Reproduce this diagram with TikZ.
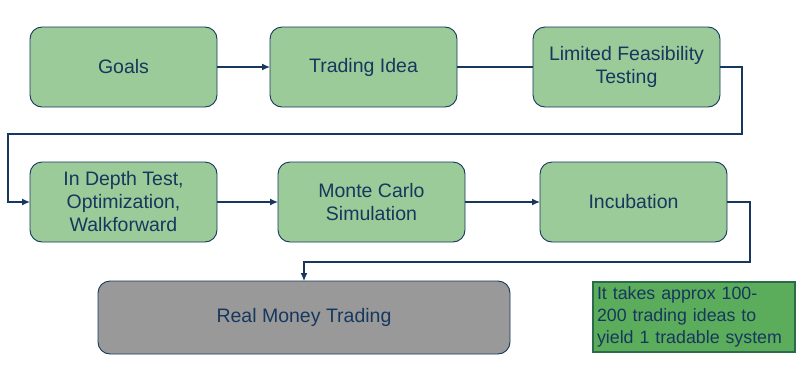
\documentclass[tikz,border=0pt]{standalone}
\usepackage{fontspec}
\setmainfont{Liberation Sans}
\usetikzlibrary{arrows.meta}
\definecolor{boxgreen}{HTML}{9ACB98}
\definecolor{navy}{HTML}{17375E}
\definecolor{boxgray}{HTML}{999999}
\definecolor{notegreen}{HTML}{5BAD5B}
\definecolor{noteborder}{HTML}{2C6B4A}
\tikzset{
  stage/.style={draw=navy, line width=0.9pt, fill=boxgreen, rounded corners=12pt,
    minimum width=187pt, minimum height=80pt, inner sep=0pt, outer sep=0pt,
    align=center, text=navy, font=\fontsize{19.5pt}{23pt}\selectfont},
  final/.style={stage, fill=boxgray, minimum width=412pt, minimum height=73pt},
  note/.style={draw=noteborder, line width=1.6pt, fill=notegreen, minimum width=202pt,
    minimum height=70pt, inner sep=0pt, outer sep=0pt, text width=194pt, align=left,
    text=navy, font=\fontsize{17.8pt}{22pt}\selectfont},
  conn/.style={draw=navy, line width=1.2pt},
  arr/.style={conn, -{Latex[length=8pt,width=7pt]}}
}
\begin{document}
\begin{tikzpicture}[x=1pt,y=-1pt]
\useasboundingbox (0,0) rectangle (811,370);
\node[stage] (goals) at (123.5,67) {Goals};
\node[stage] (idea) at (363.5,67) {Trading Idea};
\node[stage] (lim) at (626.5,67) {Limited Feasibility\\Testing};
\node[stage] (dep) at (123.5,202) {In Depth Test,\\Optimization,\\Walkforward};
\node[stage] (mc) at (371.5,202) {Monte Carlo\\Simulation};
\node[stage] (inc) at (633.5,202) {Incubation};
\node[final] (rm) at (304,317.5) {Real Money Trading};
\node[note] (nt) at (694,317) {It takes approx 100-\\200 trading ideas to\\yield 1 tradable system};
\coordinate (c1) at (742,134);
\coordinate (c2) at (8,134);
\coordinate (c3) at (750,262);
\coordinate (c4) at (304,262);
\draw[arr] (goals) -- (idea);
\draw[conn] (idea) -- (lim);
\draw[arr] (lim.east) -| (c1) -- (c2) |- (dep.west);
\draw[arr] (dep) -- (mc);
\draw[arr] (mc) -- (inc);
\draw[arr] (inc.east) -| (c3) -- (c4) -- (rm.north);
\end{tikzpicture}
\end{document}
